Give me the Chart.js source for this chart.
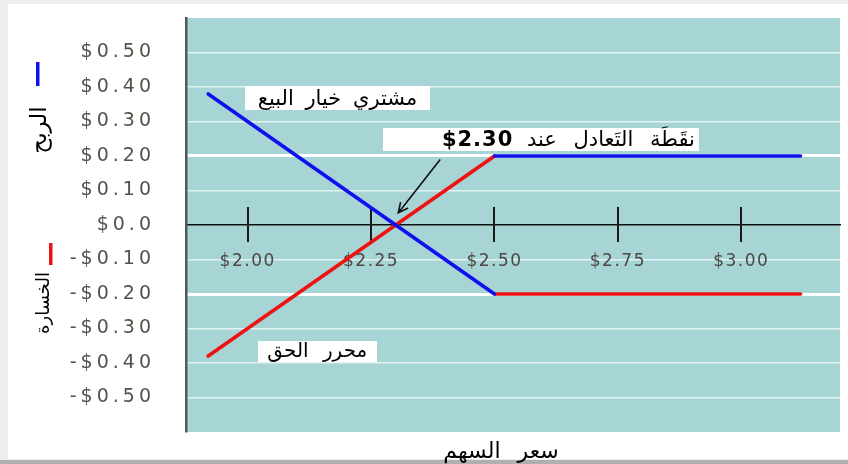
<!DOCTYPE html>
<html>
<head>
<meta charset="utf-8">
<script src="https://cdn.jsdelivr.net/npm/chart.js@4.4.1/dist/chart.umd.min.js"></script>
<style>
  html, body { margin: 0; padding: 0; background: #ededed; }
  canvas { display: block; }
</style>
</head>
<body>
<canvas id="payoff" width="848" height="464"></canvas>
<script>
'use strict'

// Stock price ticks, drawn along the zero line
var priceTicks = [2.00, 2.25, 2.50, 2.75, 3.00];

// Profit / loss ticks and how they are written
var profitTicks = [-0.5, -0.4, -0.3, -0.2, -0.1, 0, 0.1, 0.2, 0.3, 0.4, 0.5];
var profitLabels = ['-$0.50', '-$0.40', '-$0.30', '-$0.20', '-$0.10', '$0.0',
                    '$0.10', '$0.20', '$0.30', '$0.40', '$0.50'];

// Put buyer (blue)
var buyerFallX = [1.92, 2.50];
var buyerFallY = [0.38, -0.20];
var buyerFlatX = [2.50, 3.12];
var buyerFlatY = [0.20, 0.20];

// Put writer (red)
var writerRiseX = [1.92, 2.50];
var writerRiseY = [-0.38, 0.20];
var writerFlatX = [2.50, 3.12];
var writerFlatY = [-0.20, -0.20];

var breakEven = 2.30;

var BLUE = '#1010ee';
var RED = '#f01212';
var AR_FONT = '"DejaVu Sans", sans-serif';

function pts(xs, ys) {
  return xs.map(function(x, i) { return { x: x, y: ys[i] }; });
}

function leg(xs, ys, color) {
  return {
    data: pts(xs, ys),
    borderColor: color,
    borderWidth: 3.6,
    borderCapStyle: 'round',
    pointRadius: 0,
    tension: 0,
    fill: false
  };
}

//------------- page frame + plot background -------------//
var frame = {
  id: 'frame',
  beforeDraw: function(chart) {
    var c = chart.ctx, a = chart.chartArea;
    c.save();
    c.fillStyle = '#ededed';
    c.fillRect(0, 0, chart.width, chart.height);
    c.fillStyle = '#ffffff';
    c.fillRect(8, 4, chart.width - 8, 455);
    c.fillStyle = '#b0b0b0';
    c.fillRect(0, 460, chart.width, 4);
    c.fillStyle = '#a7d4d4';
    c.fillRect(a.left, a.top, a.right - a.left, a.bottom - a.top);
    c.restore();
    // x labels are drawn in this pass, y labels after the datasets
    c.letterSpacing = '1.5px';
  },
  beforeDatasetsDraw: function(chart) {
    // tick marks crossing the zero line
    var c = chart.ctx, x = chart.scales.x, y0 = chart.scales.y.getPixelForValue(0);
    c.save();
    c.strokeStyle = '#1a1a1a';
    c.lineWidth = 2;
    priceTicks.forEach(function(v) {
      var px = Math.round(x.getPixelForValue(v));
      c.beginPath();
      c.moveTo(px, y0 - 18);
      c.lineTo(px, y0 + 17);
      c.stroke();
    });
    c.restore();
  },
  afterDatasetsDraw: function(chart) {
    chart.ctx.letterSpacing = '4px';
  }
};

//------------- labels, arrow and axis titles -------------//
function box(c, cx, cy, w, h) {
  c.fillStyle = '#ffffff';
  c.fillRect(Math.round(cx - w / 2), Math.round(cy - h / 2), w, h);
  c.fillStyle = '#000000';
}

var notes = {
  id: 'notes',
  afterDraw: function(chart) {
    var c = chart.ctx, x = chart.scales.x, y = chart.scales.y;
    c.letterSpacing = '0px';
    c.save();
    c.textBaseline = 'middle';
    c.direction = 'rtl';
    c.textAlign = 'center';

    // put buyer
    var bx = x.getPixelForValue(2.182), by = y.getPixelForValue(0.367);
    box(c, bx, by, 185, 24);
    c.font = '21px ' + AR_FONT;
    c.wordSpacing = '5px';
    c.fillText('مشتري خيار البيع', bx, by + 1);

    // put writer
    var wx = x.getPixelForValue(2.141), wy = y.getPixelForValue(-0.366);
    box(c, wx, wy, 119, 21);
    c.font = '20px ' + AR_FONT;
    c.wordSpacing = '8px';
    c.fillText('محرر الحق', wx, wy + 1);

    // break-even
    var ex = x.getPixelForValue(2.594), ey = y.getPixelForValue(0.2486);
    box(c, ex, ey, 316, 23);
    c.font = '21px ' + AR_FONT;
    c.wordSpacing = '10px';
    c.textAlign = 'right';
    c.fillText('نقَطَة التَعادل عند', ex + 316 / 2 - 4, ey + 1);
    c.direction = 'ltr';
    c.textAlign = 'left';
    c.wordSpacing = '0px';
    c.letterSpacing = '1px';
    c.font = 'bold 21px ' + AR_FONT;
    c.fillText('$' + breakEven.toFixed(2), ex - 316 / 2 + 59, ey + 1);
    c.letterSpacing = '0px';

    // arrow to the crossing point
    var x1 = x.getPixelForValue(2.39), y1 = y.getPixelForValue(0.19);
    var x2 = x.getPixelForValue(breakEven + 0.005), y2 = y.getPixelForValue(0.035);
    var ang = Math.atan2(y2 - y1, x2 - x1);
    c.strokeStyle = '#111';
    c.lineWidth = 1.6;
    c.beginPath();
    c.moveTo(x1, y1);
    c.lineTo(x2, y2);
    c.moveTo(x2 - 11 * Math.cos(ang - 0.45), y2 - 11 * Math.sin(ang - 0.45));
    c.lineTo(x2, y2);
    c.lineTo(x2 - 11 * Math.cos(ang + 0.45), y2 - 11 * Math.sin(ang + 0.45));
    c.stroke();

    // x title
    c.direction = 'rtl';
    c.textAlign = 'center';
    c.font = '22px ' + AR_FONT;
    c.wordSpacing = '10px';
    c.fillText('سعر السهم', 501, 452);
    c.wordSpacing = '0px';

    // y titles with their colour keys
    c.fillStyle = BLUE;
    c.fillRect(36, 62, 3.5, 24);
    c.fillStyle = RED;
    c.fillRect(49, 243, 3.5, 22);
    c.fillStyle = '#000';
    c.font = '23px ' + AR_FONT;
    c.save();
    c.translate(40, 130);
    c.rotate(-Math.PI / 2);
    c.fillText('الربح', 0, 0);
    c.restore();
    c.font = '18px ' + AR_FONT;
    c.save();
    c.translate(44, 303);
    c.rotate(-Math.PI / 2);
    c.fillText('الخسارة', 0, 0);
    c.restore();

    c.restore();
  }
};

var ctx = document.getElementById('payoff').getContext('2d');

var payoffChart = new Chart(ctx, {
  type: 'line',
  data: {
    datasets: [
      leg(buyerFallX, buyerFallY, BLUE),
      leg(buyerFlatX, buyerFlatY, BLUE),
      leg(writerRiseX, writerRiseY, RED),
      leg(writerFlatX, writerFlatY, RED)
    ]
  },
  options: {
    responsive: false,
    animation: false,
    devicePixelRatio: 1,
    layout: { padding: { left: 20, right: 8, top: 18, bottom: 32 } },
    plugins: {
      legend: { display: false },
      tooltip: { enabled: false }
    },
    scales: {
      x: {
        type: 'linear',
        position: { y: 0 },
        min: 1.875,
        max: 3.2,
        afterBuildTicks: function(scale) {
          scale.ticks = priceTicks.map(function(v) { return { value: v }; });
        },
        grid: { drawOnChartArea: false, drawTicks: false },
        border: { color: '#111111', width: 1.5 },
        ticks: {
          padding: 26,
          maxRotation: 0,
          autoSkip: false,
          color: '#4b4844',
          font: { family: 'DejaVu Sans', size: 17 },
          callback: function(v) { return '$' + v.toFixed(2); }
        }
      },
      y: {
        min: -0.6,
        max: 0.6,
        afterBuildTicks: function(scale) {
          scale.ticks = profitTicks.map(function(v) { return { value: v }; });
        },
        // room for the wide labels on the left
        afterFit: function(scale) {
          scale.width = 166;
        },
        grid: {
          tickLength: 27,
          tickColor: 'rgba(0,0,0,0)',
          color: function(c) {
            if (c.tick && Math.abs(c.tick.value) < 1e-9) return 'rgba(0,0,0,0)';
            return c.tick && Math.abs(Math.abs(c.tick.value) - 0.2) < 1e-9 ? '#ffffff' : '#e2f1f1';
          },
          lineWidth: function(c) {
            return c.tick && Math.abs(Math.abs(c.tick.value) - 0.2) < 1e-9 ? 3 : 1.6;
          }
        },
        border: { color: '#4e5a5a', width: 2.5 },
        ticks: {
          z: 1,
          padding: 4,
          color: '#57504a',
          font: { family: 'DejaVu Sans', size: 19 },
          callback: function(v, i) { return profitLabels[i]; }
        }
      }
    }
  },
  plugins: [frame, notes]
});
</script>
</body>
</html>
